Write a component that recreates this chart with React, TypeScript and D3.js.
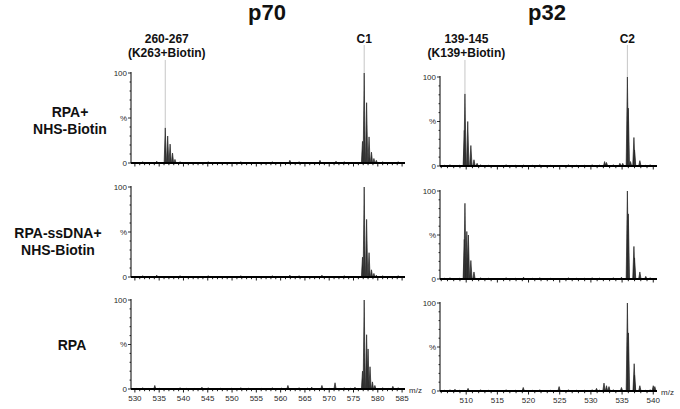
import * as d3 from 'd3';

type Peak = [number, number];

// m/z ranges and tick labels
const P70_DOMAIN: [number, number] = [529.2, 585.6];
const P32_DOMAIN: [number, number] = [505.8, 540.6];
const P70_TICKS = [530, 535, 540, 545, 550, 555, 560, 565, 570, 575, 580, 585];
const P32_TICKS = [510, 515, 520, 525, 530, 535, 540];

const ROW_LABELS = [['RPA+', 'NHS-Biotin'], ['RPA-ssDNA+', 'NHS-Biotin'], ['RPA']];

// p70 spectra (m/z, % intensity)
const p70Biotin: Peak[] = [
  [534.5, 2], [561.9, 3], [568.1, 3], [571.4, 2],
  [536.25, 39], [536.75, 30], [537.25, 21], [537.75, 11], [538.25, 4],
  [576.85, 24], [577.2, 100], [577.7, 67], [578.2, 29], [578.7, 12], [579.2, 5], [579.7, 3],
];
const p70Ssdna: Peak[] = [
  [534.5, 2], [561.9, 2], [568.5, 2],
  [576.85, 22], [577.2, 100], [577.7, 64], [578.2, 27], [578.7, 8], [579.2, 4], [579.7, 2],
];
const p70Rpa: Peak[] = [
  [534.1, 4], [543.8, 2], [561.5, 4], [566.4, 2], [568.5, 4], [571.2, 7], [575.3, 2], [583.1, 3],
  [576.85, 20], [577.2, 100], [577.7, 61], [578.0, 45], [578.4, 25], [578.9, 8], [579.4, 4],
];

// p32 spectra
const p32Biotin: Peak[] = [
  [519.2, 1], [532.2, 5], [532.5, 4], [534.65, 3], [535.1, 3], [536.35, 5],
  [509.7, 40], [509.8, 81], [510.25, 50], [510.75, 23], [511.25, 7], [511.75, 3],
  [535.85, 100], [536.0, 65], [536.9, 32], [537.0, 18], [537.85, 6],
];
const p32Ssdna: Peak[] = [
  [519.2, 2], [534.9, 2],
  [509.7, 45], [509.8, 86], [510.1, 54], [510.35, 50], [510.75, 21], [511.25, 8],
  [535.85, 100], [536.0, 74], [536.9, 37], [537.0, 24], [537.85, 8], [538.8, 3],
];
const p32Rpa: Peak[] = [
  [508.2, 2], [510.3, 3], [519.15, 4], [524.9, 5], [530.9, 3], [532.1, 9], [532.5, 6], [532.9, 5],
  [534.9, 4], [540.0, 6], [540.25, 5],
  [535.85, 100], [536.02, 66], [536.94, 31], [537.0, 18], [537.85, 6],
];

// low-level baseline jitter
const p70Noise: Peak[] = [
  [530.4, 1], [531.6, 1.5], [532.9, 1], [535.0, 1], [539.3, 1.5], [540.7, 1], [542.2, 1], [545.1, 1.5],
  [547.6, 1], [549.9, 1], [551.8, 1.5], [553.4, 1], [556.0, 1], [558.3, 1.5], [560.2, 1], [563.8, 1.5],
  [565.5, 1], [570.0, 1], [573.1, 1.5], [574.4, 1], [581.0, 1.5], [582.3, 1], [584.2, 1.5],
];
const p32Noise: Peak[] = [
  [506.5, 1], [507.4, 1.5], [508.9, 1], [512.3, 1.5], [513.6, 1], [514.8, 1], [516.4, 1.5], [517.9, 1],
  [520.6, 1], [521.8, 1.5], [523.5, 1], [526.4, 1.5], [527.7, 1], [529.0, 1], [530.2, 1.5], [531.4, 1],
  [533.6, 1.5], [538.8, 1], [539.5, 1.5],
];

const P70_ROWS = [p70Biotin, p70Ssdna, p70Rpa];
const P32_ROWS = [p32Biotin, p32Ssdna, p32Rpa];

// annotated peaks (row 0)
const P70_NOTES = [
  { lines: ['260-267', '(K263+Biotin)'], mz: 536.25, top: 39 },
  { lines: ['C1'], mz: 577.2, top: 100 },
];
const P32_NOTES = [
  { lines: ['139-145', '(K139+Biotin)'], mz: 509.8, top: 81 },
  { lines: ['C2'], mz: 535.85, top: 100 },
];

const FONT = 'Liberation Sans, Arial, sans-serif';

const LEFT = { x0: 131, x1: 405, zero: [163, 277, 389], full: [73, 187, 300] };
const RIGHT = { x0: 440, x1: 657, zero: [166, 279, 391], full: [77, 191, 303] };

function Panel({ data, noise, domain, ticks, box, row, last, hw }: any) {
  const x = d3.scaleLinear().domain(domain).range([box.x0, box.x1]);
  const y = d3.scaleLinear().domain([0, 100]).range([box.zero[row], box.full[row]]);
  const y0 = y(0);
  const minor = d3.range(Math.ceil(domain[0]), Math.floor(domain[1]) + 1);
  const yTicks = d3.range(0, 101, 10);
  const peak = (p: Peak, i: number, w: number) => (
    <path key={i}
      d={`M${x(p[0]) - w},${y0}L${x(p[0])},${y(p[1])}L${x(p[0]) + w},${y0}Z`}
      fill="#383838" stroke="#222" strokeWidth={0.7} />
  );
  return (
    <g>
      {noise.map((p: Peak, i: number) => peak(p, i, 0.9))}
      {data.map((p: Peak, i: number) => peak(p, i + 100, hw))}
      {/* y axis */}
      <line x1={box.x0} x2={box.x0} y1={y(100) - 1} y2={y0} stroke="#000" strokeWidth={1} />
      {yTicks.map(t => (
        <line key={t} x1={box.x0 - (t % 50 === 0 ? 3 : 1.5)} x2={box.x0} y1={y(t)} y2={y(t)}
          stroke="#000" strokeWidth={0.8} />
      ))}
      <text x={box.x0 - 4} y={y(100) + 2.5} textAnchor="end" fontSize={8} fill="#2a2a2a" fontFamily={FONT}>100</text>
      <text x={box.x0 - 4} y={y(50) + 2.5} textAnchor="end" fontSize={8} fill="#2a2a2a" fontFamily={FONT}>%</text>
      <text x={box.x0 - 4} y={y(0) + 2.5} textAnchor="end" fontSize={8} fill="#2a2a2a" fontFamily={FONT}>0</text>
      {/* x axis */}
      <line x1={box.x0} x2={box.x1} y1={y0} y2={y0} stroke="#000" strokeWidth={2} />
      {minor.map(t => (
        <line key={t} x1={x(t)} x2={x(t)} y1={y0} y2={y0 + (t % 5 === 0 ? 3.5 : 2.2)}
          stroke="#000" strokeWidth={0.9} />
      ))}
      {last && ticks.map((t: number) => (
        <text key={t} x={x(t)} y={y0 + 12} textAnchor="middle" fontSize={8} fill="#2a2a2a" fontFamily={FONT}>{t}</text>
      ))}
      {last && (
        <text x={box.x1 + 4} y={y0 + 4} fontSize={8} fill="#2a2a2a" fontFamily={FONT}>m/z</text>
      )}
    </g>
  );
}

function Notes({ notes, domain, box }: any) {
  const x = d3.scaleLinear().domain(domain).range([box.x0, box.x1]);
  const y = d3.scaleLinear().domain([0, 100]).range([box.zero[0], box.full[0]]);
  return (
    <g>
      {notes.map((n: any, i: number) => {
        const cx = x(n.mz);
        const bottom = n.lines.length === 2 ? 60 : 45;
        return (
          <g key={i}>
            <line x1={cx} x2={cx} y1={bottom} y2={y(n.top)} stroke="#b8b8b8" strokeWidth={0.8} />
            {n.lines.map((s: string, j: number) => (
              <text key={j} x={cx + (n.lines.length === 2 ? 1.5 : 0)} y={43 + j * 14} textAnchor="middle"
                fontSize={12} fontWeight="bold" fill="#111" fontFamily={FONT}>{s}</text>
            ))}
          </g>
        );
      })}
    </g>
  );
}

const ROW_LABEL_POS = [{ x: 70, y: 117 }, { x: 58, y: 238 }, { x: 72, y: 350 }];

export default function App() {
  return (
    <svg width={680} height={409} style={{ position: 'absolute', left: 0, top: 0, background: '#fff' }}>
      <text x={267} y={20} textAnchor="middle" fontSize={22} fontWeight="bold" fontFamily={FONT} fill="#111">p70</text>
      <text x={547} y={20} textAnchor="middle" fontSize={22} fontWeight="bold" fontFamily={FONT} fill="#111">p32</text>
      {ROW_LABELS.map((lines, r) => (
        <text key={r} textAnchor="middle" fontSize={14} fontWeight="bold" fontFamily={FONT} fill="#111">
          {lines.map((s, j) => (
            <tspan key={j} x={ROW_LABEL_POS[r].x} y={ROW_LABEL_POS[r].y + j * 16.5}>{s}</tspan>
          ))}
        </text>
      ))}
      <Notes notes={P70_NOTES} domain={P70_DOMAIN} box={LEFT} />
      <Notes notes={P32_NOTES} domain={P32_DOMAIN} box={RIGHT} />
      {P70_ROWS.map((d, r) => (
        <Panel key={'l' + r} data={d} noise={p70Noise} domain={P70_DOMAIN} ticks={P70_TICKS}
          box={LEFT} row={r} last={r === 2} hw={1.1} />
      ))}
      {P32_ROWS.map((d, r) => (
        <Panel key={'r' + r} data={d} noise={p32Noise} domain={P32_DOMAIN} ticks={P32_TICKS}
          box={RIGHT} row={r} last={r === 2} hw={1.2} />
      ))}
    </svg>
  );
}
